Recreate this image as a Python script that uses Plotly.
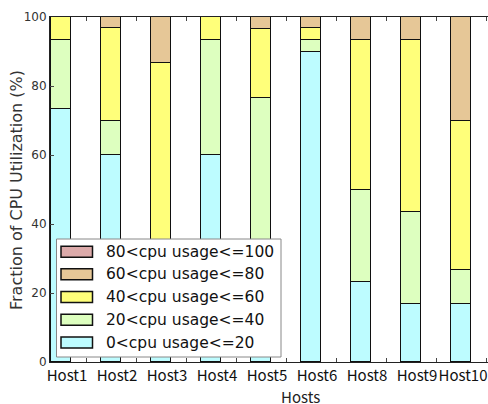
import plotly.graph_objects as go

hosts = ["Host1", "Host2", "Host3", "Host4", "Host5", "Host6", "Host8", "Host9", "Host10"]
u0_20 = [73.3, 60.0, 3.3, 60.0, 3.3, 90.0, 23.3, 16.7, 16.7]
u20_40 = [20.0, 10.0, 3.3, 33.3, 73.3, 3.3, 26.7, 26.7, 10.0]
u40_60 = [6.7, 26.7, 80.1, 6.7, 20.0, 3.4, 43.3, 50.0, 43.3]
u60_80 = [0.0, 3.3, 13.3, 0.0, 3.4, 3.3, 6.7, 6.6, 30.0]
u80_100 = [0, 0, 0, 0, 0, 0, 0, 0, 0]

series = [
    ("0<cpu usage<=20", u0_20, "#bdfcff"),
    ("20<cpu usage<=40", u20_40, "#ddffbf"),
    ("40<cpu usage<=60", u40_60, "#ffff7a"),
    ("60<cpu usage<=80", u60_80, "#e6c797"),
    ("80<cpu usage<=100", u80_100, "#dcaaaa"),
]

W, H = 488, 404
L, R, T, B = 50, 0, 17, 42
PW, PH = W - L - R, H - T - B
XR = [-0.02, -0.02 + PW / 50]

def xp(px):
    return (px - L) / PW

def yp(py):
    return (H - B - py) / PH

idx = list(range(len(hosts)))
label_pos = [min(i + 0.32, XR[1] - 0.5) for i in idx]

fig = go.Figure()
for name, vals, col in series:
    fig.add_trace(go.Bar(
        x=[i + 0.2 for i in idx], y=vals, width=0.4, name=name,
        marker=dict(color=col, line=dict(color="#111111", width=1)),
        showlegend=False,
    ))
fig.add_trace(go.Scatter(x=[1], y=[0], xaxis="x2", mode="markers",
                         marker=dict(opacity=0), showlegend=False, hoverinfo="skip"))

fig.update_layout(
    width=W, height=H, barmode="stack", bargap=0,
    margin=dict(l=L, r=R, t=T, b=B, pad=0, autoexpand=False),
    paper_bgcolor="white", plot_bgcolor="white",
    font=dict(family="DejaVu Sans", color="#222222"),
    xaxis=dict(range=XR, autorange=False, tickvals=label_pos, tickangle=0,
               ticktext=hosts, ticks="", showgrid=False, zeroline=False,
               showline=True, linecolor="#222222", linewidth=1, automargin=False,
               ticklabeloverflow="allow",
               tickfont=dict(family="Noto Sans CJK JP", size=15, color="#111111")),
    xaxis2=dict(overlaying="x", anchor="y", side="bottom", range=XR, autorange=False,
                tickvals=[i + 0.7 for i in idx], ticks="inside", ticklen=4,
                tickcolor="#444444", showticklabels=False, showgrid=False,
                zeroline=False, showline=True, linecolor="#222222", linewidth=1,
                mirror="ticks", automargin=False),
    yaxis=dict(range=[0, 100], autorange=False, tickvals=[0, 20, 40, 60, 80, 100],
               ticks="inside", ticklen=4, tickcolor="#444444", showgrid=False,
               zeroline=False, showline=True, linecolor="#222222", linewidth=1,
               automargin=False, tickfont=dict(size=12, color="#333333")),
)

# y-axis title
fig.add_annotation(text="Fraction of CPU Utilization (%)", xref="paper", yref="paper",
                   x=xp(17), y=yp(190), textangle=-90, showarrow=False,
                   font=dict(size=16, color="#333333"), xanchor="center", yanchor="middle")
# x-axis title
fig.add_annotation(text="Hosts", xref="paper", yref="paper", x=xp(300), y=yp(383.5),
                   showarrow=False, xanchor="center", yanchor="top",
                   font=dict(family="Noto Sans CJK JP", size=15, color="#222222"))

# manual legend
fig.add_shape(type="rect", xref="paper", yref="paper", x0=xp(56.5), x1=xp(281),
              y0=yp(357), y1=yp(239), fillcolor="white",
              line=dict(color="#888888", width=1), layer="above")
rows = [251.7, 274.3, 297, 319.7, 342.5]
for (name, vals, col), cy in zip(reversed(series), rows):
    fig.add_shape(type="rect", xref="paper", yref="paper", x0=xp(61), x1=xp(92.5),
                  y0=yp(cy + 5.5), y1=yp(cy - 5.5), fillcolor=col,
                  line=dict(color="#111111", width=1.5), layer="above")
    fig.add_annotation(text=name, xref="paper", yref="paper", x=xp(104), y=yp(cy),
                       showarrow=False, xanchor="left", yanchor="middle",
                       font=dict(size=15.5, color="#111111"))

fig.write_html("out.html", post_script="document.body.style.margin='0px';",
               config={"displayModeBar": False})
